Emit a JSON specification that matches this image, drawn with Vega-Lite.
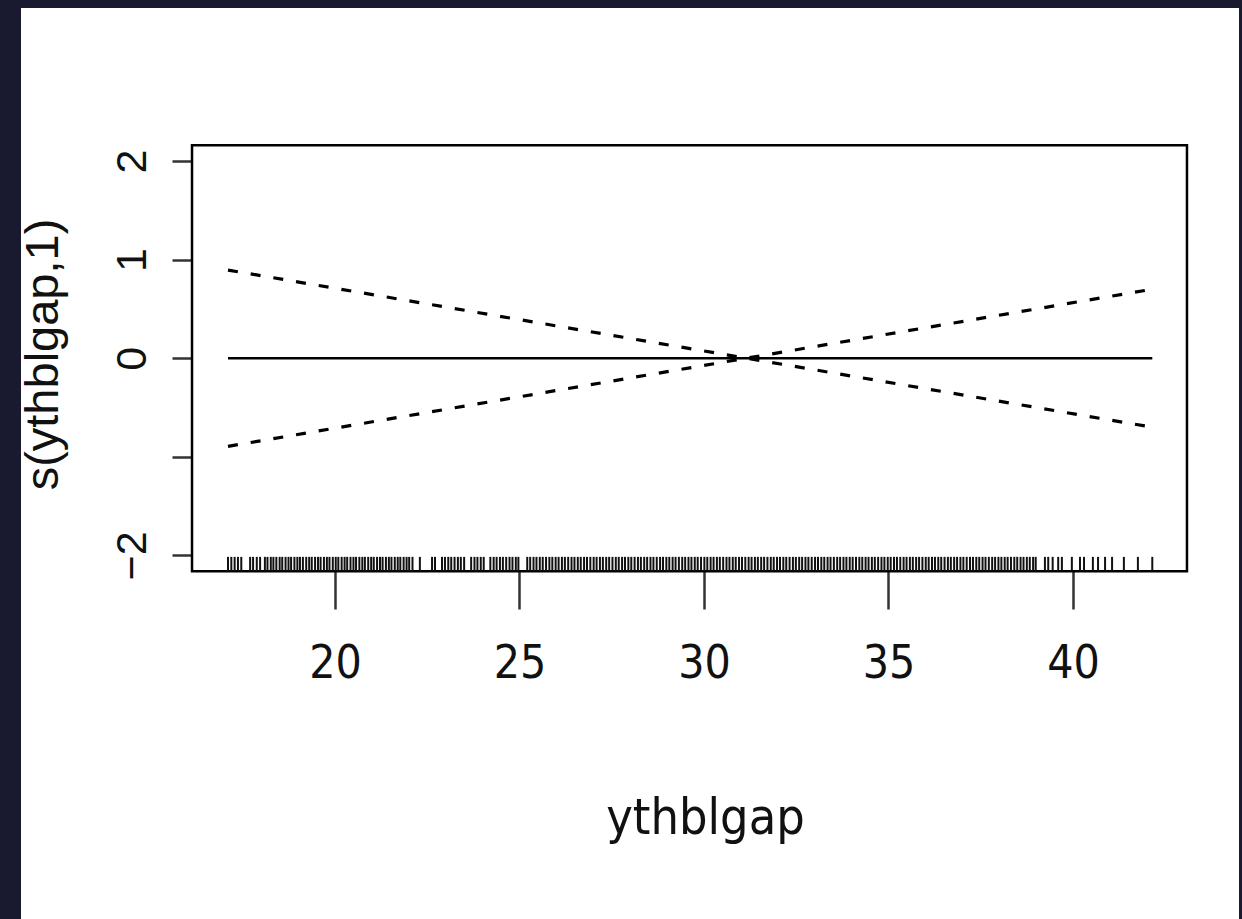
{
  "$schema": "https://vega.github.io/schema/vega-lite/v6.json",
  "width": 1218,
  "height": 911,
  "autosize": {"type": "none"},
  "padding": {"left": 21, "top": 8, "right": 3, "bottom": 0},
  "background": "#191930",
  "config": {"view": {"fill": "white", "stroke": null}, "axis": {"grid": false}},
  "datasets": {
    "curves": [
      {"x": 17.10, "y": 0, "curve": "fit"},
      {"x": 42.15, "y": 0, "curve": "fit"},
      {"x": 17.10, "y": 0.894, "curve": "upper"},
      {"x": 31.15, "y": 0, "curve": "upper"},
      {"x": 42.15, "y": 0.70, "curve": "upper"},
      {"x": 17.10, "y": -0.894, "curve": "lower"},
      {"x": 31.15, "y": 0, "curve": "lower"},
      {"x": 42.15, "y": -0.70, "curve": "lower"}
    ],
    "rug": [
      {"ythblgap": 17.10}, {"ythblgap": 17.19}, {"ythblgap": 17.28}, {"ythblgap": 17.37}, {"ythblgap": 17.46},
      {"ythblgap": 17.70}, {"ythblgap": 17.78}, {"ythblgap": 17.88}, {"ythblgap": 17.97},
      {"ythblgap": 18.10}, {"ythblgap": 18.17}, {"ythblgap": 18.26}, {"ythblgap": 18.33}, {"ythblgap": 18.41},
      {"ythblgap": 18.50}, {"ythblgap": 18.57}, {"ythblgap": 18.66}, {"ythblgap": 18.74}, {"ythblgap": 18.81},
      {"ythblgap": 18.90}, {"ythblgap": 18.98}, {"ythblgap": 19.05}, {"ythblgap": 19.13}, {"ythblgap": 19.22},
      {"ythblgap": 19.30}, {"ythblgap": 19.37}, {"ythblgap": 19.46}, {"ythblgap": 19.54}, {"ythblgap": 19.61},
      {"ythblgap": 19.70}, {"ythblgap": 19.78}, {"ythblgap": 19.85}, {"ythblgap": 19.94}, {"ythblgap": 20.02},
      {"ythblgap": 20.09}, {"ythblgap": 20.18}, {"ythblgap": 20.26}, {"ythblgap": 20.33}, {"ythblgap": 20.42},
      {"ythblgap": 20.50}, {"ythblgap": 20.57}, {"ythblgap": 20.66}, {"ythblgap": 20.74}, {"ythblgap": 20.81},
      {"ythblgap": 20.90}, {"ythblgap": 20.98}, {"ythblgap": 21.05}, {"ythblgap": 21.14}, {"ythblgap": 21.22},
      {"ythblgap": 21.29}, {"ythblgap": 21.38}, {"ythblgap": 21.46}, {"ythblgap": 21.53}, {"ythblgap": 21.62},
      {"ythblgap": 21.70}, {"ythblgap": 21.77}, {"ythblgap": 21.86}, {"ythblgap": 21.94}, {"ythblgap": 22.01},
      {"ythblgap": 22.10}, {"ythblgap": 22.30}, {"ythblgap": 22.63}, {"ythblgap": 22.71},
      {"ythblgap": 22.90}, {"ythblgap": 22.98}, {"ythblgap": 23.07}, {"ythblgap": 23.15}, {"ythblgap": 23.24},
      {"ythblgap": 23.33}, {"ythblgap": 23.41}, {"ythblgap": 23.50}, {"ythblgap": 23.69}, {"ythblgap": 23.78},
      {"ythblgap": 23.86}, {"ythblgap": 23.95}, {"ythblgap": 24.03}, {"ythblgap": 24.21}, {"ythblgap": 24.30},
      {"ythblgap": 24.38}, {"ythblgap": 24.47}, {"ythblgap": 24.55}, {"ythblgap": 24.64}, {"ythblgap": 24.73},
      {"ythblgap": 24.81}, {"ythblgap": 24.90}, {"ythblgap": 24.97}, {"ythblgap": 25.21}, {"ythblgap": 25.29},
      {"ythblgap": 25.38}, {"ythblgap": 25.46}, {"ythblgap": 25.55}, {"ythblgap": 25.63}, {"ythblgap": 25.72},
      {"ythblgap": 25.81}, {"ythblgap": 25.89}, {"ythblgap": 25.98}, {"ythblgap": 26.06}, {"ythblgap": 26.15},
      {"ythblgap": 26.23}, {"ythblgap": 26.32}, {"ythblgap": 26.41}, {"ythblgap": 26.49}, {"ythblgap": 26.58},
      {"ythblgap": 26.66}, {"ythblgap": 26.75}, {"ythblgap": 26.83}, {"ythblgap": 26.92}, {"ythblgap": 27.01},
      {"ythblgap": 27.09}, {"ythblgap": 27.18}, {"ythblgap": 27.26}, {"ythblgap": 27.35}, {"ythblgap": 27.43},
      {"ythblgap": 27.52}, {"ythblgap": 27.61}, {"ythblgap": 27.69}, {"ythblgap": 27.78}, {"ythblgap": 27.86},
      {"ythblgap": 27.95}, {"ythblgap": 28.03}, {"ythblgap": 28.12}, {"ythblgap": 28.21}, {"ythblgap": 28.29},
      {"ythblgap": 28.38}, {"ythblgap": 28.46}, {"ythblgap": 28.55}, {"ythblgap": 28.63}, {"ythblgap": 28.72},
      {"ythblgap": 28.81}, {"ythblgap": 28.89}, {"ythblgap": 28.98}, {"ythblgap": 29.06}, {"ythblgap": 29.15},
      {"ythblgap": 29.23}, {"ythblgap": 29.32}, {"ythblgap": 29.41}, {"ythblgap": 29.49}, {"ythblgap": 29.58},
      {"ythblgap": 29.66}, {"ythblgap": 29.75}, {"ythblgap": 29.83}, {"ythblgap": 29.92}, {"ythblgap": 30.01},
      {"ythblgap": 30.09}, {"ythblgap": 30.18}, {"ythblgap": 30.26}, {"ythblgap": 30.35}, {"ythblgap": 30.43},
      {"ythblgap": 30.52}, {"ythblgap": 30.61}, {"ythblgap": 30.69}, {"ythblgap": 30.78}, {"ythblgap": 30.86},
      {"ythblgap": 30.95}, {"ythblgap": 31.03}, {"ythblgap": 31.12}, {"ythblgap": 31.21}, {"ythblgap": 31.29},
      {"ythblgap": 31.38}, {"ythblgap": 31.46}, {"ythblgap": 31.55}, {"ythblgap": 31.63}, {"ythblgap": 31.72},
      {"ythblgap": 31.81}, {"ythblgap": 31.89}, {"ythblgap": 31.98}, {"ythblgap": 32.06}, {"ythblgap": 32.15},
      {"ythblgap": 32.23}, {"ythblgap": 32.32}, {"ythblgap": 32.41}, {"ythblgap": 32.49}, {"ythblgap": 32.58},
      {"ythblgap": 32.66}, {"ythblgap": 32.75}, {"ythblgap": 32.83}, {"ythblgap": 32.92}, {"ythblgap": 33.01},
      {"ythblgap": 33.09}, {"ythblgap": 33.18}, {"ythblgap": 33.26}, {"ythblgap": 33.35}, {"ythblgap": 33.43},
      {"ythblgap": 33.52}, {"ythblgap": 33.61}, {"ythblgap": 33.69}, {"ythblgap": 33.78}, {"ythblgap": 33.86},
      {"ythblgap": 33.95}, {"ythblgap": 34.03}, {"ythblgap": 34.12}, {"ythblgap": 34.21}, {"ythblgap": 34.29},
      {"ythblgap": 34.38}, {"ythblgap": 34.46}, {"ythblgap": 34.55}, {"ythblgap": 34.63}, {"ythblgap": 34.72},
      {"ythblgap": 34.81}, {"ythblgap": 34.89}, {"ythblgap": 34.98}, {"ythblgap": 35.06}, {"ythblgap": 35.15},
      {"ythblgap": 35.23}, {"ythblgap": 35.32}, {"ythblgap": 35.41}, {"ythblgap": 35.49}, {"ythblgap": 35.58},
      {"ythblgap": 35.66}, {"ythblgap": 35.75}, {"ythblgap": 35.83}, {"ythblgap": 35.92}, {"ythblgap": 36.01},
      {"ythblgap": 36.09}, {"ythblgap": 36.18}, {"ythblgap": 36.26}, {"ythblgap": 36.35}, {"ythblgap": 36.43},
      {"ythblgap": 36.52}, {"ythblgap": 36.61}, {"ythblgap": 36.69}, {"ythblgap": 36.78}, {"ythblgap": 36.86},
      {"ythblgap": 36.95}, {"ythblgap": 37.03}, {"ythblgap": 37.12}, {"ythblgap": 37.21}, {"ythblgap": 37.29},
      {"ythblgap": 37.38}, {"ythblgap": 37.46}, {"ythblgap": 37.55}, {"ythblgap": 37.63}, {"ythblgap": 37.72},
      {"ythblgap": 37.81}, {"ythblgap": 37.89}, {"ythblgap": 37.98}, {"ythblgap": 38.06}, {"ythblgap": 38.15},
      {"ythblgap": 38.23}, {"ythblgap": 38.32}, {"ythblgap": 38.41}, {"ythblgap": 38.49}, {"ythblgap": 38.58},
      {"ythblgap": 38.66}, {"ythblgap": 38.75}, {"ythblgap": 38.83}, {"ythblgap": 38.92}, {"ythblgap": 38.99},
      {"ythblgap": 39.24}, {"ythblgap": 39.33}, {"ythblgap": 39.45}, {"ythblgap": 39.60}, {"ythblgap": 39.70},
      {"ythblgap": 39.97}, {"ythblgap": 40.19}, {"ythblgap": 40.30}, {"ythblgap": 40.54}, {"ythblgap": 40.68},
      {"ythblgap": 40.87}, {"ythblgap": 41.06}, {"ythblgap": 41.38}, {"ythblgap": 41.76}, {"ythblgap": 42.15}
    ]
  },
  "layer": [
    {
      "data": {"name": "curves"},
      "transform": [{"filter": "datum.curve == 'fit'"}],
      "mark": {"type": "line", "color": "black", "strokeWidth": 2.5},
      "encoding": {
        "x": {
          "field": "x", "type": "quantitative",
          "scale": {"domain": [11.49, 44.50], "nice": false, "zero": false},
          "axis": {
            "values": [20, 25, 30, 35, 40], "offset": -348, "domain": false,
            "tickSize": 38, "tickWidth": 2.5, "tickColor": "#333",
            "labelFont": "DejaVu Sans Condensed, Liberation Sans Narrow, Liberation Sans, sans-serif",
            "labelFontSize": 46, "labelColor": "#111",
            "labelPadding": 32, "labelBaseline": "top", "labelFlush": false, "labelOverlap": false,
            "title": "ythblgap",
            "titleFont": "DejaVu Sans Condensed, Liberation Sans Narrow, Liberation Sans, sans-serif",
            "titleFontSize": 50, "titleFontWeight": "normal", "titleColor": "#111",
            "titleX": 684, "titleY": 222, "titleBaseline": "top", "titleAlign": "center"
          }
        },
        "y": {
          "field": "y", "type": "quantitative",
          "scale": {"domain": [-5.688, 3.552], "nice": false, "zero": false},
          "axis": {
            "values": [-2, -1, 0, 1, 2], "offset": -171, "domain": false, "format": "d",
            "tickSize": 20, "tickWidth": 2.5, "tickColor": "#333",
            "labelAngle": -90, "labelAlign": "center", "labelBaseline": "bottom",
            "labelPadding": 18, "labelFont": "Liberation Sans", "labelFontSize": 43, "labelColor": "#111",
            "labelOverlap": false, "labelExpr": "datum.value == -1 ? '' : datum.label",
            "title": "s(ythblgap,1)", "titleFont": "Liberation Sans", "titleFontSize": 47,
            "titleFontWeight": "normal", "titleColor": "#111", "titleAngle": -90,
            "titleX": -135, "titleY": 346, "titleBaseline": "alphabetic", "titleAlign": "center"
          }
        }
      }
    },
    {
      "data": {"values": [{}]},
      "mark": {"type": "rect", "fill": "transparent", "stroke": "black", "strokeWidth": 2.5},
      "encoding": {
        "x": {"datum": 16.125, "type": "quantitative"},
        "x2": {"datum": 43.09},
        "y": {"datum": -2.16, "type": "quantitative"},
        "y2": {"datum": 2.16}
      }
    },
    {
      "data": {"name": "curves"},
      "transform": [{"filter": "datum.curve != 'fit'"}],
      "mark": {"type": "line", "color": "black", "strokeWidth": 3.2, "strokeDash": [10, 13]},
      "encoding": {
        "x": {"field": "x", "type": "quantitative"},
        "y": {"field": "y", "type": "quantitative"},
        "detail": {"field": "curve"}
      }
    },
    {
      "data": {"name": "rug"},
      "mark": {"type": "rule", "color": "#111", "strokeWidth": 2},
      "encoding": {
        "x": {"field": "ythblgap", "type": "quantitative"},
        "y": {"datum": -2.16, "type": "quantitative"},
        "y2": {"datum": -2.015}
      }
    }
  ]
}
